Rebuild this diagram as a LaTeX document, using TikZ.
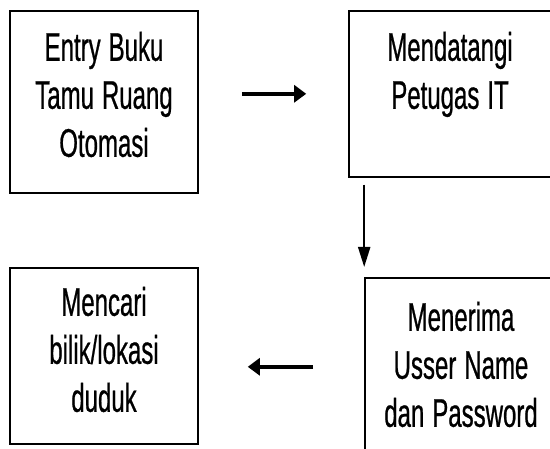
\documentclass[tikz,border=0pt]{standalone}
\usepackage{fontspec}
\setmainfont{Liberation Sans}[FakeStretch=0.6, FakeBold=0.6]
\usetikzlibrary{arrows.meta}
\newcommand{\boxfont}{\fontsize{40}{48}\selectfont\spaceskip=8pt\relax}
\tikzstyle{box} = [rectangle, draw=black, line width=1.6pt, anchor=north, align=flush center, inner sep=0pt, font=\boxfont]
\tikzstyle{arrow} = [line width=3.5pt, -{Triangle[length=12pt,width=17pt]}]
\tikzstyle{thinarrow} = [line width=2pt, -{Triangle[length=20pt,width=12pt]}]

\begin{document}
\begin{tikzpicture}[x=1pt, y=-1pt]
        \clip (0,0) rectangle (550,449);
        \fill [white] (0,0) rectangle (550,449);
        \node (entry) [box, text width=188pt, text height=50pt, text depth=132pt] at (104,10) {Entry Buku\\Tamu Ruang\\Otomasi};
        \node (datang) [box, text width=202pt, text height=50pt, text depth=116pt] at (450,10) {Mendatangi\\Petugas IT};
        \draw [arrow, shorten <=43pt, shorten >=42pt] (entry.east |- datang.west) -- (datang.west);
        \node (terima) [box, text width=192pt, text height=53pt, text depth=125pt] at (461,277) {Menerima\\Usser Name\\dan Password};
        \draw [thinarrow, shorten <=7pt, shorten >=10pt] (terima.north west |- datang.south) -- (terima.north west);
        \node (cari) [box, text width=188pt, text height=48pt, text depth=128pt] at (104,267) {Mencari\\bilik/lokasi\\duduk};
        \draw [arrow, shorten <=51pt, shorten >=49pt] (terima.west) -- (terima.west -| cari.east);
    \end{tikzpicture}
\end{document}
